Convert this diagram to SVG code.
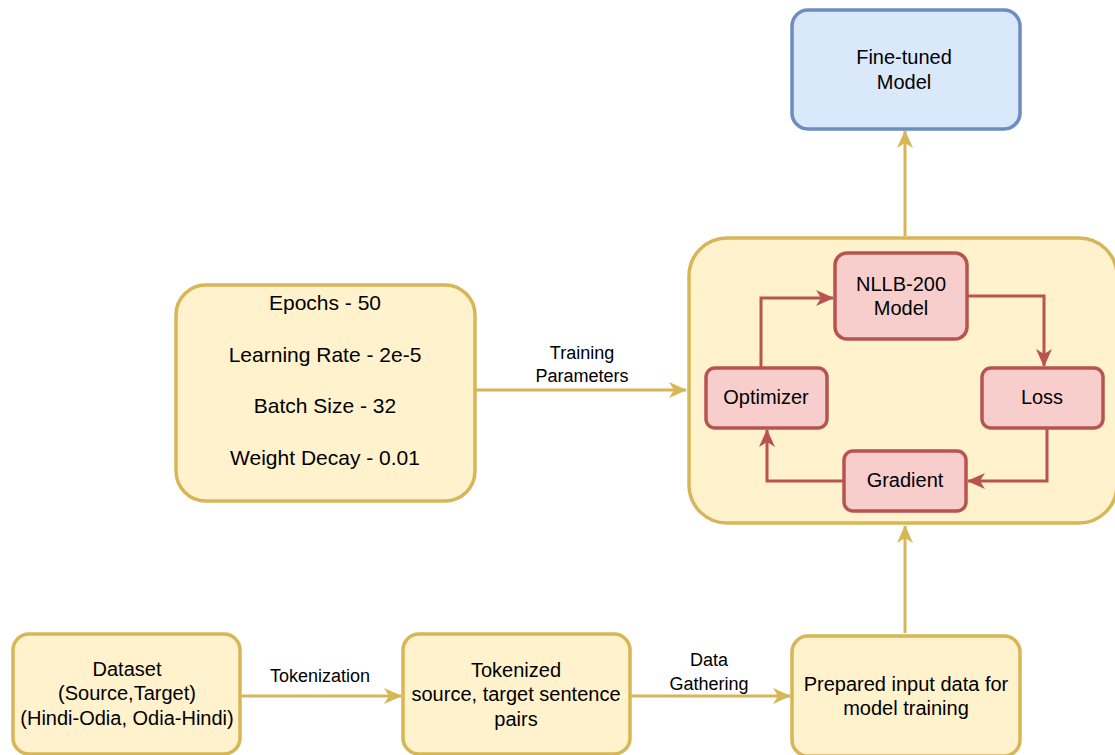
<svg xmlns="http://www.w3.org/2000/svg" width="1115" height="755" viewBox="0 0 1115 755">
<style>
text{font-family:"Liberation Sans",Arial,sans-serif;fill:#000;text-anchor:middle}
.y{fill:#fff2cc;stroke:#d6b656;stroke-width:3.5}
.r{fill:#f8cecc;stroke:#b85450;stroke-width:3.5}
.b{fill:#dae8fc;stroke:#6c8ebf;stroke-width:3.5}
.t20{font-size:20px}
.t21{font-size:21px}
.t18{font-size:18px}
.gl{fill:none;stroke:#d6b656;stroke-width:3}
.rl{fill:none;stroke:#b85450;stroke-width:3}
</style>
<defs>
<marker id="ag" markerWidth="20" markerHeight="20" refX="17" refY="8" orient="auto" markerUnits="userSpaceOnUse" viewBox="0 0 20 16">
<path d="M0,0 L18,8 L0,16 L5,8 Z" fill="#d6b656"/>
</marker>
<marker id="ar" markerWidth="20" markerHeight="20" refX="17" refY="8" orient="auto" markerUnits="userSpaceOnUse" viewBox="0 0 20 16">
<path d="M0,0 L18,8 L0,16 L5,8 Z" fill="#b85450"/>
</marker>
</defs>
<g id="connectors">
<path class="gl" d="M475,390 L686,390" marker-end="url(#ag)"/>
<path class="gl" d="M905,236 L905,131" marker-end="url(#ag)"/>
<path class="gl" d="M905,633 L905,526" marker-end="url(#ag)"/>
<path class="gl" d="M240,696 L401,696" marker-end="url(#ag)"/>
<path class="gl" d="M630,696 L790,696" marker-end="url(#ag)"/>
</g>
<g id="fine-tuned">
<rect class="b" x="792" y="10" width="228" height="119" rx="16"/>
<text class="t20" x="904" y="64">Fine-tuned</text>
<text class="t20" x="904" y="89">Model</text>
</g>
<g id="params">
<rect class="y" x="176" y="285" width="299" height="216" rx="30"/>
<text class="t21" x="325" y="310">Epochs - 50</text>
<text class="t21" x="325" y="362">Learning Rate - 2e-5</text>
<text class="t21" x="325" y="413">Batch Size - 32</text>
<text class="t21" x="325" y="465">Weight Decay - 0.01</text>
</g>
<g id="training-label">
<text class="t18" x="582" y="359">Training</text>
<text class="t18" x="582" y="382">Parameters</text>
</g>
<g id="container">
<rect class="y" x="689" y="238" width="428" height="285" rx="38" stroke-width="4"/>
</g>
<g id="inner-connectors">
<path class="rl" d="M761,368 L761,298 L833,298" marker-end="url(#ar)"/>
<path class="rl" d="M967,296 L1044,296 L1044,366" marker-end="url(#ar)"/>
<path class="rl" d="M1047,428 L1047,481 L968,481" marker-end="url(#ar)"/>
<path class="rl" d="M844,481 L767,481 L767,430" marker-end="url(#ar)"/>
</g>
<g id="nllb">
<rect class="r" x="835" y="253" width="132" height="86" rx="12"/>
<text class="t20" x="901" y="291">NLLB-200</text>
<text class="t20" x="901" y="315">Model</text>
</g>
<g id="optimizer">
<rect class="r" x="706" y="368" width="121" height="60" rx="9"/>
<text class="t20" x="766" y="404">Optimizer</text>
</g>
<g id="loss">
<rect class="r" x="982" y="368" width="121" height="60" rx="9"/>
<text class="t20" x="1042" y="404">Loss</text>
</g>
<g id="gradient">
<rect class="r" x="844" y="451" width="122" height="60" rx="9"/>
<text class="t20" x="905" y="487">Gradient</text>
</g>
<g id="dataset">
<rect class="y" x="13" y="634" width="227" height="120" rx="16"/>
<text class="t20" x="127" y="676">Dataset</text>
<text class="t20" x="127" y="700">(Source,Target)</text>
<text class="t20" x="127" y="725">(Hindi-Odia, Odia-Hindi)</text>
</g>
<g id="tokenization-label">
<text class="t18" x="320" y="682">Tokenization</text>
</g>
<g id="tokenized">
<rect class="y" x="403" y="634" width="227" height="120" rx="16"/>
<text class="t20" x="516" y="677">Tokenized</text>
<text class="t20" x="516" y="701">source, target sentence</text>
<text class="t20" x="516" y="726">pairs</text>
</g>
<g id="gathering-label">
<text class="t18" x="709" y="666">Data</text>
<text class="t18" x="709" y="690">Gathering</text>
</g>
<g id="prepared">
<rect class="y" x="792" y="636" width="228" height="120" rx="16"/>
<text class="t20" x="906" y="691">Prepared input data for</text>
<text class="t20" x="906" y="715">model training</text>
</g>
</svg>
